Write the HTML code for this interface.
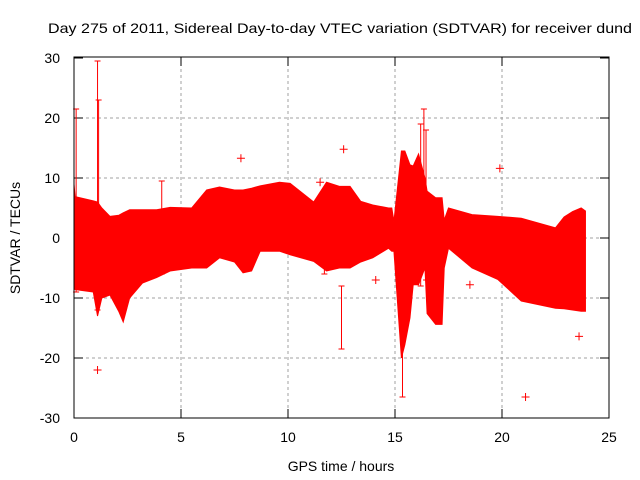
<!DOCTYPE html>
<html><head><meta charset="utf-8"><style>
body{margin:0;background:#fff;}
svg{display:block;font-family:"Liberation Sans",sans-serif;}
</style></head><body>
<svg id="chart" width="640" height="480" viewBox="0 0 640 480" xmlns="http://www.w3.org/2000/svg">
<text x="340" y="33" font-size="14" text-anchor="middle" textLength="584" lengthAdjust="spacingAndGlyphs">Day 275 of 2011, Sidereal Day-to-day VTEC variation (SDTVAR) for receiver dund</text>
<text x="341" y="471" font-size="14" text-anchor="middle">GPS time / hours</text>
<text x="20" y="238" font-size="14" text-anchor="middle" transform="rotate(-90 20 238)">SDTVAR / TECUs</text>
<g id="grid"></g><g id="ticks"></g><g id="marks"></g>
<rect x="74" y="57" width="535" height="361" fill="none" stroke="#000" stroke-width="1"/>
</svg>
<script>
const xTicks=[0,5,10,15,20,25];
const yTicks=[-30,-20,-10,0,10,20,30];
const times=[0,0.05,0.9,1.1,1.3,1.68,2.1,2.3,2.6,3.2,3.86,4.49,5.5,6.2,6.8,7.5,7.9,8.3,8.7,9.6,10.1,11.2,11.8,12.4,12.9,13.4,13.96,14.7,14.85,14.95,15.3,15.46,15.7,15.85,16.1,16.4,16.5,16.9,17.2,17.3,17.5,18.6,19.8,20.9,22.5,22.9,23.3,23.7,23.9];
const upper=[9,6.9,6.2,6,5,3.6,3.8,4.2,4.7,4.7,4.7,5.1,5,8,8.5,8,8,8.3,8.7,9.3,9.1,6,9.3,8.6,8.6,6.1,5.5,5,5,2.8,14.5,14.5,12.2,12,14,10,7.8,6.7,6.7,3,5,3.9,3.6,3.3,1.7,3.5,4.4,5,4.5];
const lower=[-7.5,-8.6,-9,-13,-10,-9.5,-12.3,-14,-10,-7.5,-6.6,-5.5,-5,-5,-3.3,-4,-5.8,-5.5,-2.2,-2.2,-2.8,-3.9,-5.5,-5,-5,-4,-3.3,-1.7,-2.2,-2.2,-20,-17.8,-13.3,-7.8,-7.8,-5,-12.6,-14.4,-14.4,-5,-1.7,-5,-6.9,-10.5,-11.7,-11.8,-12,-12.2,-12.2];
const spikeT=[0.1,1.1,1.15,4.1,12.5,15.35,16.2,16.35,16.45,11.7];
const spikeLo=[-9,-12,5,-6,-18.5,-26.5,-8,-5,-7,-6];
const spikeHi=[21.5,29.5,23,9.5,-8,-10,19,21.5,18,-3];
const outT=[1.1,7.8,12.6,21.1,23.6,19.9,14.1,11.5,18.5];
const outV=[-22,13.3,14.8,-26.5,-16.4,11.6,-7,9.3,-7.8];
const X=t=>74+t*535/25, Y=v=>238-v*6;
const ns="http://www.w3.org/2000/svg";
function mk(p,tag,a){const e=document.createElementNS(ns,tag);for(const k in a)e.setAttribute(k,a[k]);p.appendChild(e);return e;}
const grid=document.getElementById('grid'),ticks=document.getElementById('ticks'),marks=document.getElementById('marks');
xTicks.forEach(t=>{const x=X(t);
 if(t>0&&t<25){const g=mk(grid,'line',{x1:x,y1:57,x2:x,y2:418,stroke:'#a0a0a0','stroke-dasharray':'3,3'});
 
 }
 mk(ticks,'line',{x1:x,y1:418,x2:x,y2:409,stroke:'#000'});mk(ticks,'line',{x1:x,y1:57,x2:x,y2:66,stroke:'#000'});
 const l=mk(ticks,'text',{x:x,y:442,'font-size':14,'text-anchor':'middle'});l.textContent=t;
 
 });
yTicks.forEach(v=>{const y=Y(v);
 if(v>-30&&v<30){const g=mk(grid,'line',{x1:74,y1:y,x2:609,y2:y,stroke:'#a0a0a0','stroke-dasharray':'3,3'});
 
 }
 mk(ticks,'line',{x1:74,y1:y,x2:83,y2:y,stroke:'#000'});mk(ticks,'line',{x1:609,y1:y,x2:600,y2:y,stroke:'#000'});
 const l=mk(ticks,'text',{x:60,y:y+5,'font-size':14,'text-anchor':'end'});l.textContent=v;
 
 });
let pts=times.map((t,i)=>X(t)+','+Y(upper[i]));
for(let i=times.length-1;i>=0;i--)pts.push(X(times[i])+','+Y(lower[i]));
const band=mk(marks,'polygon',{points:pts.join(' '),fill:'#ff0000',stroke:'#ff0000','stroke-width':1});


spikeT.forEach((t,i)=>{const x=X(t);
 const s=mk(marks,'line',{x1:x,y1:Y(spikeLo[i]),x2:x,y2:Y(spikeHi[i]),stroke:'#ff0000'});
 
 
 mk(marks,'line',{x1:x-3,y1:Y(spikeHi[i]),x2:x+3,y2:Y(spikeHi[i]),stroke:'#ff0000'});
 mk(marks,'line',{x1:x-3,y1:Y(spikeLo[i]),x2:x+3,y2:Y(spikeLo[i]),stroke:'#ff0000'});});
outT.forEach((t,i)=>{const x=X(t),y=Y(outV[i]);
 const p=mk(marks,'path',{d:`M${x-4},${y}H${x+4}M${x},${y-4}V${y+4}`,stroke:'#ff0000'});
 
 });
</script>
</body></html>
